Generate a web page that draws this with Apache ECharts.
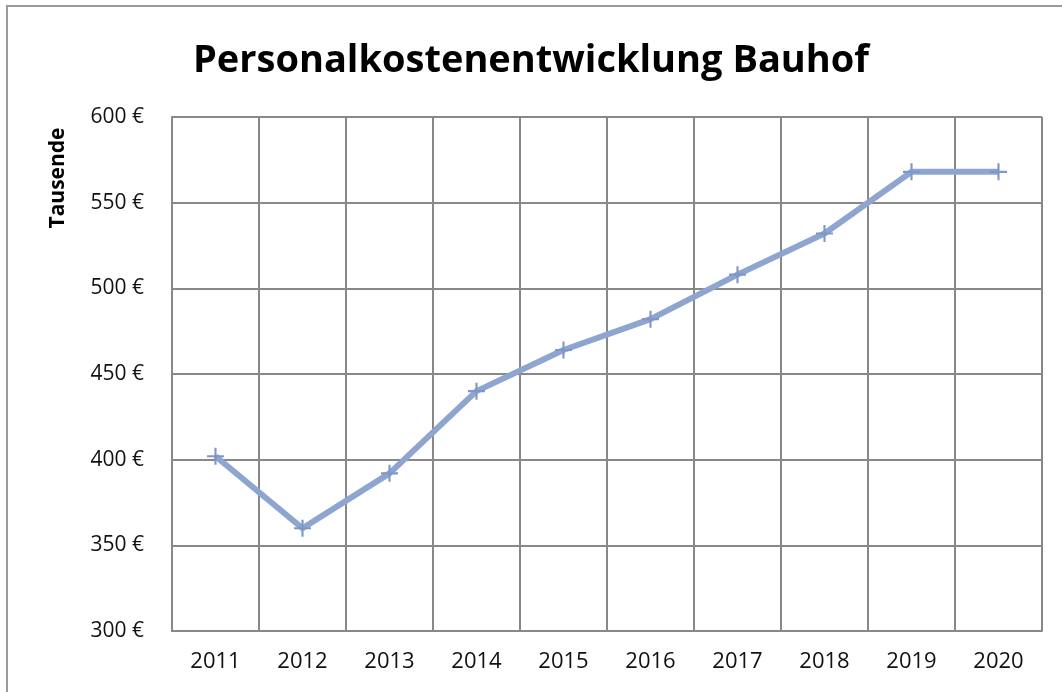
<!DOCTYPE html>
<html>
<head>
<meta charset="utf-8">
<script src="https://cdn.jsdelivr.net/npm/echarts@6/dist/echarts.min.js"></script>
<style>html,body{margin:0;padding:0;background:#fff}#c{width:1062px;height:692px}</style>
</head>
<body>
<div id="c"></div>
<script>
const categories = ['2011','2012','2013','2014','2015','2016','2017','2018','2019','2020'];
const values = [402, 360, 392, 440, 464, 482, 508, 532, 568, 568];
const yTicks = [300, 350, 400, 450, 500, 550, 600];
const titleText = 'Personalkostenentwicklung Bauhof';
const yName = 'Tausende';

const chart = echarts.init(document.getElementById('c'));
const font = '"Open Sans", "Liberation Sans", sans-serif';
chart.setOption({
  animation: false,
  backgroundColor: '#fff',
  graphic: [{
    type: 'rect', shape: {x: 7, y: 6, width: 1070, height: 700},
    style: {fill: 'none', stroke: '#9a9a9a', lineWidth: 2}, silent: true
  }, {
    type: 'text', x: 58, y: 178, rotation: Math.PI / 2,
    style: {text: yName, fontFamily: font, fontSize: 21, fontWeight: 'bold', fill: '#000',
            align: 'center', verticalAlign: 'middle'}
  }],
  title: {
    text: titleText, left: 'center', top: 37,
    textStyle: {fontFamily: font, fontSize: 38, fontWeight: 'bold', color: '#000'}
  },
  grid: {left: 172, right: 20, top: 117, bottom: 61, containLabel: false, outerBoundsMode: 'none', show: false},
  xAxis: {
    type: 'category', data: categories, boundaryGap: true,
    axisLine: {show: true, lineStyle: {color: '#888', width: 2}},
    axisTick: {show: false},
    splitLine: {show: true, interval: 0, lineStyle: {color: '#888', width: 2}},
    axisLabel: {fontFamily: font, fontSize: 22, color: '#111', margin: 20, interval: 0}
  },
  yAxis: {
    type: 'value', min: yTicks[0], max: yTicks[yTicks.length - 1], interval: 50,
    axisLine: {show: true, lineStyle: {color: '#888', width: 2}},
    axisTick: {show: false},
    splitLine: {show: true, lineStyle: {color: '#888', width: 2}},
    axisLabel: {fontFamily: font, fontSize: 21, color: '#111', margin: 28, formatter: v => v + ' €'}
  },
  series: [{
    type: 'line', data: values,
    lineStyle: {color: '#8ea5d0', width: 6},
    symbol: 'path://M-1,-8 h2 v7 h7 v2 h-7 v7 h-2 v-7 h-7 v-2 h7 z',
    symbolSize: 17,
    itemStyle: {color: '#7f97c6'}
  }]
});
</script>
</body>
</html>
